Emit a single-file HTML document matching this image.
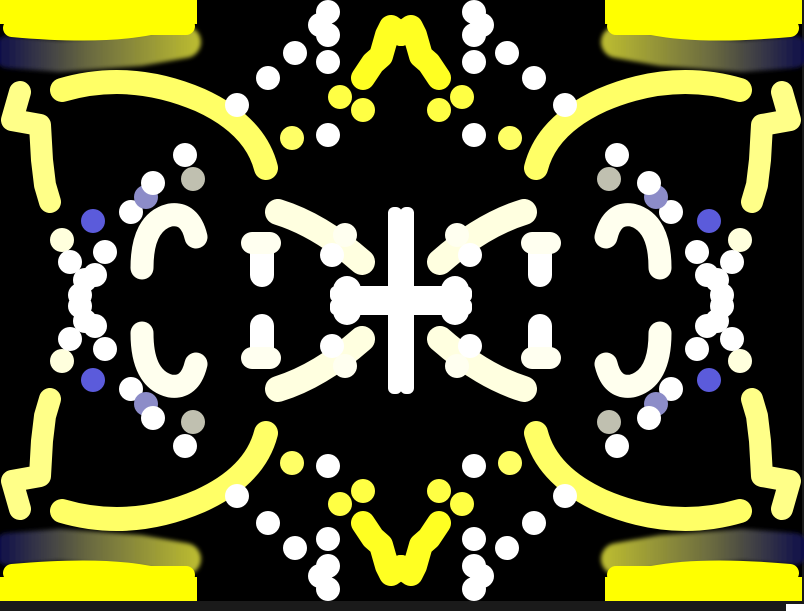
<!DOCTYPE html>
<html><head><meta charset="utf-8"><style>
html,body{margin:0;padding:0;background:#1a1a1a;width:804px;height:611px;overflow:hidden}
svg{display:block}
</style></head><body>
<svg width="804" height="611" viewBox="0 0 804 611">
<defs>
<linearGradient id="band" gradientUnits="userSpaceOnUse" x1="0" x2="200" y1="0" y2="0">
<stop offset="0" stop-color="#10104a"/><stop offset="0.45" stop-color="#6a6a40"/><stop offset="1" stop-color="#bdbd30"/>
</linearGradient>
<filter id="bl" filterUnits="userSpaceOnUse" x="-20" y="0" width="250" height="100"><feGaussianBlur stdDeviation="2"/></filter>
<g id="quad">
<path d="M8,52 L60,56 L140,50 L185,42" stroke="url(#band)" stroke-width="32" fill="none" stroke-linecap="round" filter="url(#bl)"/>
<rect x="0" y="0" width="197" height="24" fill="#ffff00"/>
<path d="M12,28 Q100,36 150,26 L186,26" stroke="#ffff00" stroke-width="18" fill="none" stroke-linecap="round"/>
<path d="M62,90 Q130,70 200,100 Q255,125 266,168" stroke="#ffff66" stroke-width="24" fill="none" stroke-linecap="round"/>
<path d="M20,92 L12,120 L40,125 L42,160 L45,185 L50,202" stroke="#ffff88" stroke-width="22" fill="none" stroke-linecap="round" stroke-linejoin="round"/>
<circle cx="62" cy="240" r="12" fill="#ffffdd"/>
<circle cx="70" cy="262" r="12" fill="#fff"/>
<circle cx="85" cy="280" r="12" fill="#fff"/>
<circle cx="80" cy="295" r="12" fill="#fff"/>
<circle cx="95" cy="275" r="12" fill="#fff"/>
<circle cx="105" cy="252" r="12" fill="#fff"/>
<circle cx="93" cy="221" r="12" fill="#5b5bdb"/>
<circle cx="131" cy="212" r="12" fill="#fff"/>
<circle cx="146" cy="197" r="12" fill="#8c8cc8"/>
<circle cx="153" cy="183" r="12" fill="#fff"/>
<circle cx="185" cy="155" r="12" fill="#fff"/>
<circle cx="193" cy="179" r="12" fill="#c0c0b0"/>
<path d="M196,237 Q190,212 170,215 Q142,222 142,268" stroke="#ffffee" stroke-width="23" fill="none" stroke-linecap="round"/>
<path d="M262,245 L262,275" stroke="#fff" stroke-width="24" stroke-linecap="round"/>
<path d="M252,243 L270,243" stroke="#fffff0" stroke-width="22" stroke-linecap="round"/>
<path d="M278,212 Q320,225 362,262" stroke="#ffffe0" stroke-width="26" fill="none" stroke-linecap="round"/>
<circle cx="345" cy="235" r="12" fill="#fffff0"/>
<circle cx="332" cy="255" r="12" fill="#fff"/>
<circle cx="347" cy="290" r="14" fill="#fff"/>
<rect x="388" y="207" width="14" height="100" fill="#fff" rx="6"/>
<rect x="330" y="286" width="72" height="16" fill="#fff" rx="6"/>
<circle cx="328" cy="12" r="12" fill="#fff"/>
<circle cx="320" cy="25" r="12" fill="#fff"/>
<circle cx="328" cy="35" r="12" fill="#fff"/>
<circle cx="295" cy="53" r="12" fill="#fff"/>
<circle cx="268" cy="78" r="12" fill="#fff"/>
<circle cx="328" cy="62" r="12" fill="#fff"/>
<circle cx="328" cy="135" r="12" fill="#fff"/>
<circle cx="237" cy="105" r="12" fill="#fff"/>
<circle cx="292" cy="138" r="12" fill="#ffff66"/>
<circle cx="340" cy="97" r="12" fill="#ffff44"/>
<circle cx="363" cy="110" r="12" fill="#ffff44"/>
<path d="M363,78 L373,63 L381,56 L387,35 L391,27 L401,34" stroke="#ffff22" stroke-width="24" fill="none" stroke-linecap="round" stroke-linejoin="round"/>
</g>
</defs>
<rect x="0" y="0" width="802" height="601" fill="#000"/>
<g><use href="#quad"/></g>
<g><use href="#quad" transform="translate(802,0) scale(-1,1)"/></g>
<g><use href="#quad" transform="translate(0,601) scale(1,-1)"/></g>
<g><use href="#quad" transform="translate(802,601) scale(-1,-1)"/></g>
<rect x="786" y="604" width="18" height="7" fill="#fff"/>
</svg>
</body></html>
